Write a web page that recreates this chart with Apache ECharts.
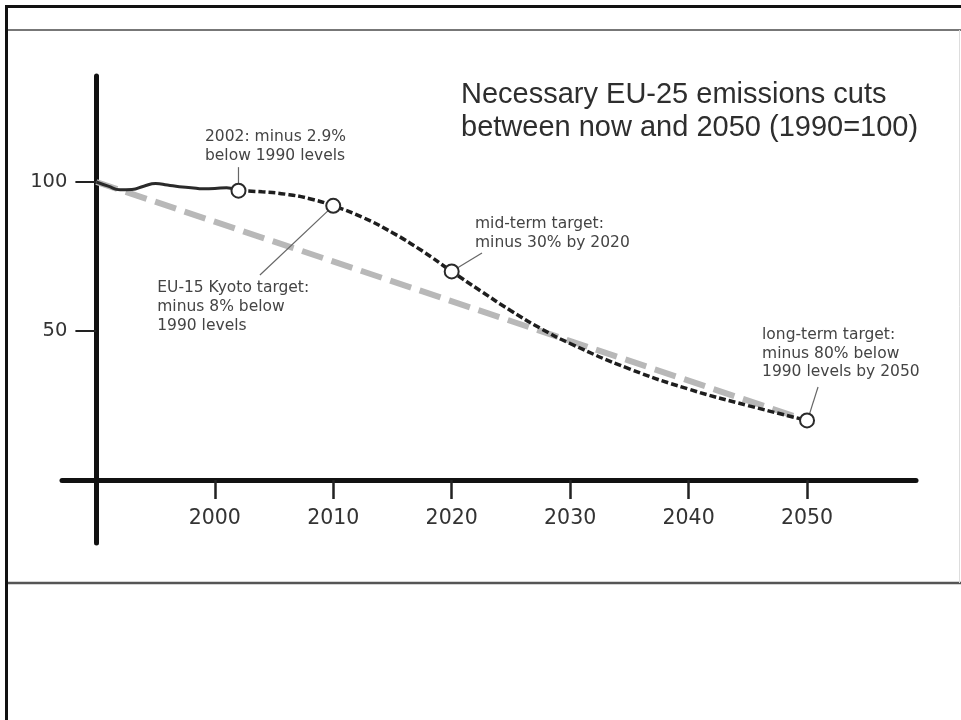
<!DOCTYPE html>
<html>
<head>
<meta charset="utf-8">
<script src="https://cdn.jsdelivr.net/npm/echarts@6/dist/echarts.min.js"></script>
<style>
html,body{margin:0;padding:0;background:#fff;}
#chart{width:961px;height:720px;}
</style>
</head>
<body>
<div id="chart"></div>
<script>
// ---- data ----
const histYears = [1990, 1991, 1992, 1993, 1994, 1995, 1996, 1997, 1998, 1999, 2000, 2001, 2002];
const histValues = [100, 98.6, 97.4, 97.5, 98.6, 99.5, 99.0, 98.4, 98.1, 97.7, 97.8, 98.1, 97.1];

const pathYears = [2002, 2004, 2006, 2008, 2010, 2012.5, 2015, 2017.5, 2020, 2022.5, 2025, 2027.5, 2030, 2035, 2040, 2045, 2050];
const pathValues = [97.1, 96.7, 95.9, 94.4, 92, 88.1, 83.0, 76.9, 70, 63.3, 56.8, 50.9, 45.8, 37.3, 30.5, 25, 20];

const linearYears = [1990, 2050];
const linearValues = [100, 20];

const targetYears = [2002, 2010, 2020, 2050];
const targetValues = [97.1, 92, 70, 20];
const targetNotes = [
  '2002: minus 2.9%\nbelow 1990 levels',
  'EU-15 Kyoto target:\nminus 8% below\n1990 levels',
  'mid-term target:\nminus 30% by 2020',
  'long-term target:\nminus 80% below\n1990 levels by 2050'
];

const xTickValues = [2000, 2010, 2020, 2030, 2040, 2050];
const yTickValues = [50, 100];
const titleLines = ['Necessary EU-25 emissions cuts', 'between now and 2050 (1990=100)'];

// ---- layout (pixel offsets of note text / leader lines relative to each target circle) ----
const noteLayout = [
  { tx: -33.5, ty: -63, line: [0, -7, 0, -23.5] },
  { tx: -176, ty: 73, line: [-5.1, 4.8, -73.3, 69.2] },
  { tx: 23.3, ty: -56.8, line: [6, -3.6, 30.3, -18.4] },
  { tx: -45, ty: -94.8, line: [2.5, -6.5, 11, -33.4] }
];

const zip = (a, b) => a.map((v, i) => [v, b[i]]);

const chart = echarts.init(document.getElementById('chart'), null, { renderer: 'canvas' });

const option = {
  backgroundColor: '#ffffff',
  animation: false,
  title: {
    text: titleLines.join('\n'),
    left: 461,
    top: 78.5,
    padding: 0,
    textStyle: {
      fontFamily: '"Liberation Sans", Arial, sans-serif',
      fontSize: 29,
      fontWeight: 'normal',
      lineHeight: 33,
      color: '#2e2e2e'
    }
  },
  grid: { left: 62, right: 45, top: 76, bottom: 177, containLabel: false },
  xAxis: {
    type: 'value',
    min: 1987.1,
    max: 2059.2,
    axisLine: { show: true, onZero: true, lineStyle: { color: '#111', width: 5, cap: 'round' } },
    axisTick: { show: true, customValues: xTickValues, length: 19, inside: false, lineStyle: { color: '#222', width: 2.5 } },
    axisLabel: {
      customValues: xTickValues,
      margin: -34.5,
      fontFamily: '"DejaVu Sans", sans-serif',
      fontSize: 20.5,
      color: '#333',
      formatter: v => String(v)
    },
    splitLine: { show: false }
  },
  yAxis: {
    type: 'value',
    min: -21.14,
    max: 135.57,
    offset: -34.4,
    axisLine: { show: true, onZero: false, lineStyle: { color: '#111', width: 5 } },
    axisTick: { show: true, customValues: yTickValues, length: 21, inside: false, lineStyle: { color: '#222', width: 2 } },
    axisLabel: {
      customValues: yTickValues,
      margin: 29,
      padding: [0, 0, 12, 0],
      fontFamily: '"DejaVu Sans", sans-serif',
      fontSize: 19.5,
      color: '#333',
      formatter: v => String(v)
    },
    splitLine: { show: false }
  },
  series: [
    {
      name: 'linear path',
      type: 'line',
      data: zip(linearYears, linearValues),
      showSymbol: false,
      silent: true,
      z: 2,
      lineStyle: { color: '#b8b8b8', width: 6, type: [22, 9] }
    },
    {
      name: 'necessary path',
      type: 'line',
      data: zip(pathYears, pathValues),
      showSymbol: false,
      smooth: 0.5,
      silent: true,
      z: 3,
      lineStyle: { color: '#1e1e1e', width: 3.5, type: [7, 3] }
    },
    {
      name: 'historical',
      type: 'line',
      data: zip(histYears, histValues),
      showSymbol: false,
      smooth: 0.5,
      silent: true,
      z: 4,
      lineStyle: { color: '#2a2a2a', width: 3 }
    },
    {
      name: 'notes',
      type: 'custom',
      data: zip(targetYears, targetValues),
      encode: { x: 0, y: 1 },
      silent: true,
      clip: false,
      z: 5,
      renderItem: function (params, api) {
        const p = api.coord([api.value(0), api.value(1)]);
        const lay = noteLayout[params.dataIndex];
        return {
          type: 'group',
          children: [
            {
              type: 'line',
              shape: { x1: p[0] + lay.line[0], y1: p[1] + lay.line[1], x2: p[0] + lay.line[2], y2: p[1] + lay.line[3] },
              style: { stroke: '#666', lineWidth: 1.2 }
            },
            {
              type: 'text',
              x: p[0] + lay.tx,
              y: p[1] + lay.ty,
              style: {
                text: targetNotes[params.dataIndex],
                fill: '#444',
                fontFamily: '"DejaVu Sans", sans-serif',
                fontSize: 15.5,
                lineHeight: 18.7,
                align: 'left',
                verticalAlign: 'top'
              }
            }
          ]
        };
      }
    },
    {
      name: 'targets',
      type: 'scatter',
      data: zip(targetYears, targetValues),
      symbol: 'circle',
      symbolSize: 14,
      silent: true,
      z: 6,
      itemStyle: { color: '#ffffff', borderColor: '#2a2a2a', borderWidth: 2, opacity: 1 }
    }
  ],
  graphic: [
    { type: 'line', silent: true, shape: { x1: 5, y1: 6.5, x2: 961, y2: 6.5 }, style: { stroke: '#111', lineWidth: 3 } },
    { type: 'line', silent: true, shape: { x1: 6.5, y1: 5, x2: 6.5, y2: 720 }, style: { stroke: '#111', lineWidth: 3 } },
    { type: 'line', silent: true, shape: { x1: 8, y1: 30, x2: 961, y2: 30 }, style: { stroke: '#777', lineWidth: 2 } },
    { type: 'line', silent: true, shape: { x1: 8, y1: 583, x2: 961, y2: 583 }, style: { stroke: '#555', lineWidth: 2.5 } },
    { type: 'line', silent: true, shape: { x1: 959.5, y1: 30, x2: 959.5, y2: 583 }, style: { stroke: '#ddd', lineWidth: 1 } }
  ]
};

chart.setOption(option);
</script>
</body>
</html>
